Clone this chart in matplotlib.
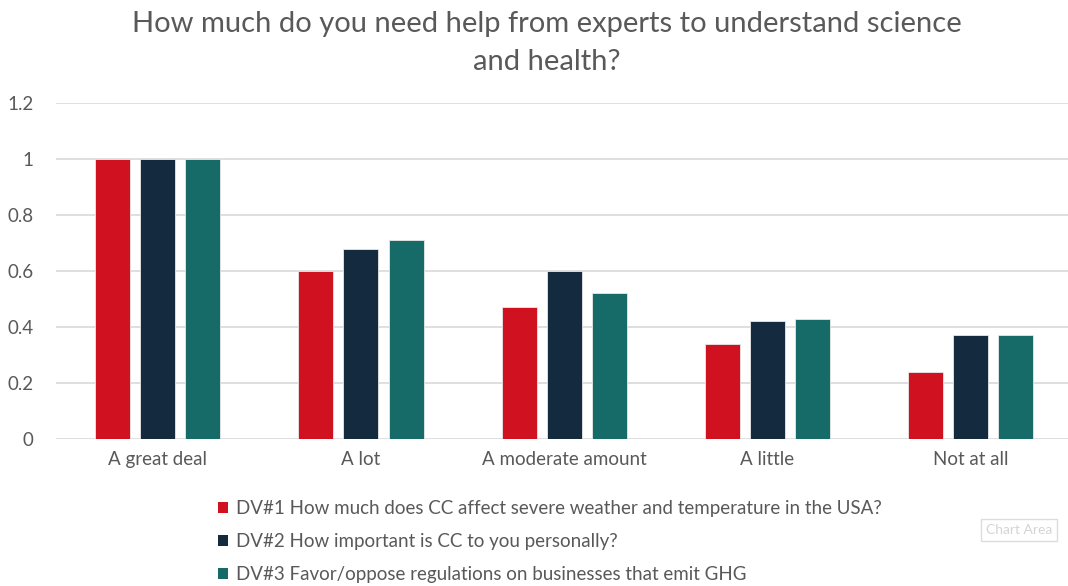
import numpy as np
import matplotlib.pyplot as plt
from matplotlib.patches import Patch

categories = ['A great deal', 'A lot', 'A moderate amount', 'A little', 'Not at all']
dv1 = [1.00, 0.60, 0.47, 0.34, 0.24]
dv2 = [1.00, 0.68, 0.60, 0.42, 0.37]
dv3 = [1.00, 0.71, 0.52, 0.43, 0.37]
series_names = ['DV#1 How much does CC affect severe weather and temperature in the USA?',
                'DV#2 How important is CC to you personally?',
                'DV#3 Favor/oppose regulations on businesses that emit GHG']
colors = ['#d0111f', '#142a3e', '#166b69']
yticks = [0, 0.2, 0.4, 0.6, 0.8, 1, 1.2]
ytick_labels = ['0', '0.2', '0.4', '0.6', '0.8', '1', '1.2']

plt.rcParams['font.family'] = ['Lato', 'DejaVu Sans']
txt = '#595959'

fig = plt.figure(figsize=(10.68, 5.86), dpi=100)
ax = fig.add_axes([0.0525, 0.2509, 0.9515, 0.5733])

x = np.arange(len(categories))
w = 0.172
step = 0.222
for i, (vals, c) in enumerate(zip([dv1, dv2, dv3], colors)):
    ax.bar(x + (i - 1) * step, vals, width=w, color=c, edgecolor='#e8e8e8',
           linewidth=0.6, zorder=3)

ax.set_xlim(-0.5, len(categories) - 0.5)
ax.set_ylim(0, 1.2)
ax.set_yticks(yticks)
ax.set_yticklabels(ytick_labels)
ax.set_xticks(x)
ax.set_xticklabels(categories)
ax.tick_params(axis='both', length=0, labelsize=13.5, colors=txt)
ax.tick_params(axis='y', pad=16)
ax.tick_params(axis='x', pad=9)
ax.grid(axis='y', color='#d9d9d9', linewidth=1.2, zorder=0)
for s in ax.spines.values():
    s.set_visible(False)

fig.text(0.512, 0.959, 'How much do you need help from experts to understand science',
         ha='center', va='center', fontsize=21, color=txt)
fig.text(0.512, 0.894, 'and health?', ha='center', va='center', fontsize=21, color=txt)

handles = [Patch(facecolor=c, edgecolor='none') for c in colors]
fig.legend(handles, series_names, loc='upper left', bbox_to_anchor=(0.204, 0.147),
           frameon=False, fontsize=13.5, labelcolor=txt, handlelength=0.55,
           handleheight=0.55, handletextpad=0.4, labelspacing=0.87,
           borderaxespad=0, borderpad=0)

# hover tag in the lower right corner
fig.text(0.954, 0.096, 'Chart Area', ha='center', va='center', fontsize=10,
         color='#d4d4d4',
         bbox=dict(boxstyle='square,pad=0.35', facecolor='white', edgecolor='#dcdcdc',
                   linewidth=1))

fig.savefig('out.png', dpi=100)
